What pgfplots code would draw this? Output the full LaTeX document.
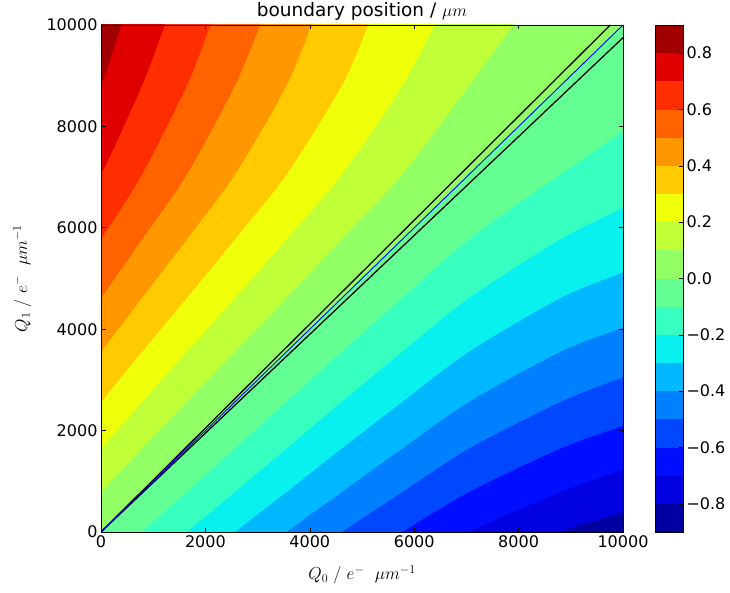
\documentclass[border=0pt]{standalone}
\usepackage{fontspec}
\setmainfont{DejaVu Sans}
\usepackage{pgfplots}
\pgfplotsset{compat=1.18}
\definecolor{c0}{rgb}{0,0,0.626}
\definecolor{c1}{rgb}{0,0,0.879}
\definecolor{c2}{rgb}{0,0.056,1}
\definecolor{c3}{rgb}{0,0.278,1}
\definecolor{c4}{rgb}{0,0.5,1}
\definecolor{c5}{rgb}{0,0.722,1}
\definecolor{c6}{rgb}{0.036,0.944,0.932}
\definecolor{c7}{rgb}{0.215,1,0.753}
\definecolor{c8}{rgb}{0.394,1,0.574}
\definecolor{c9}{rgb}{0.574,1,0.394}
\definecolor{c10}{rgb}{0.753,1,0.215}
\definecolor{c11}{rgb}{0.932,1,0.036}
\definecolor{c12}{rgb}{1,0.798,0}
\definecolor{c13}{rgb}{1,0.593,0}
\definecolor{c14}{rgb}{1,0.387,0}
\definecolor{c15}{rgb}{1,0.181,0}
\definecolor{c16}{rgb}{0.879,0,0}
\definecolor{c17}{rgb}{0.626,0,0}
\pgfplotsset{band/.style={fill=#1, draw=none, smooth, tension=0.5}}
\begin{document}
\begin{tikzpicture}
\path[use as bounding box] (0pt,0pt) rectangle (730pt,592pt);
\begin{axis}[
  at={(101pt,60pt)}, anchor=south west,
  scale only axis, width=522pt, height=507pt,
  xmin=0, xmax=10000, ymin=0, ymax=10000,
  axis on top, scaled ticks=false,
  xtick={0,2000,4000,6000,8000,10000},
  xticklabels={0,2000,4000,6000,8000,10000},
  ytick={0,2000,4000,6000,8000,10000},
  yticklabels={0,2000,4000,6000,8000,10000},
  tick align=inside, major tick length=4.5pt,
  tick style={black, line width=0.6pt},
  axis line style={black, line width=0.8pt},
  tick label style={font=\fontsize{16}{19}\selectfont},
  every axis title shift=0pt,
  title={boundary position / $\mu m$},
  title style={font=\fontsize{18.5}{22}\selectfont, at={(axis description cs:0.5,1.026)}, anchor=center},
  xlabel={$Q_0\ /\ e^{-}\ \ \mu m^{-1}$},
  ylabel={$Q_1\ /\ e^{-}\ \ \mu m^{-1}$},
  xlabel style={font=\fontsize{16.7}{19}\selectfont, at={(axis description cs:0.5,-0.085)}, anchor=center},
  ylabel style={font=\fontsize{16.7}{19}\selectfont, at={(axis description cs:-0.151,0.5)}, anchor=center},
]
% upper half (positive levels)
\addplot[fill=c9, draw=none] coordinates {(0,0)(0,10000)(10000,10000)};
\addplot[band=c10] coordinates {(-789,0)(0,789)(789,1649)(1649,2569)(2569,3559)(3559,4619)(4619,5779)(5779,7059)(7059,8816)(7900,10000)(8320,10592)(-1000,10800)};
\addplot[band=c11] coordinates {(-789,789)(0,1649)(789,2569)(1649,3559)(2569,4619)(3559,5779)(4619,7059)(5779,8816)(6390,10000)(6695,10592)(-1000,10800)};
\addplot[band=c12] coordinates {(-789,1649)(0,2569)(789,3559)(1649,4619)(2569,5779)(3559,7059)(4619,8816)(5120,10000)(5370,10592)(-1000,10800)};
\addplot[band=c13] coordinates {(-789,2569)(0,3559)(789,4619)(1649,5779)(2569,7059)(3559,8816)(4030,10000)(4265,10592)(-1000,10800)};
\addplot[band=c14] coordinates {(-789,3559)(0,4619)(789,5779)(1649,7059)(2569,8816)(3050,10000)(3290,10592)(-1000,10800)};
\addplot[band=c15] coordinates {(-789,4619)(0,5779)(789,7059)(1649,8816)(2095,10000)(2318,10592)(-1000,10800)};
\addplot[band=c16] coordinates {(-789,5779)(0,7059)(789,8816)(1222,10000)(1438,10592)(-1000,10800)};
\addplot[band=c17] coordinates {(-789,7059)(0,8816)(388,10000)(582,10592)(-1000,10800)};
% lower half (negative levels)
\addplot[fill=c8, draw=none] coordinates {(0,0)(10000,0)(10000,10000)};
\addplot[band=c7] coordinates {(0,-789)(789,0)(1649,789)(2569,1649)(3559,2569)(4619,3559)(5779,4619)(7059,5779)(8816,7059)(10000,7900)(10592,8320)(10800,-1000)};
\addplot[band=c6] coordinates {(789,-789)(1649,0)(2569,789)(3559,1649)(4619,2569)(5779,3559)(7059,4619)(8816,5779)(10000,6390)(10592,6695)(10800,-1000)};
\addplot[band=c5] coordinates {(1649,-789)(2569,0)(3559,789)(4619,1649)(5779,2569)(7059,3559)(8816,4619)(10000,5120)(10592,5370)(10800,-1000)};
\addplot[band=c4] coordinates {(2569,-789)(3559,0)(4619,789)(5779,1649)(7059,2569)(8816,3559)(10000,4030)(10592,4265)(10800,-1000)};
\addplot[band=c3] coordinates {(3559,-789)(4619,0)(5779,789)(7059,1649)(8816,2569)(10000,3050)(10592,3290)(10800,-1000)};
\addplot[band=c2] coordinates {(4619,-789)(5779,0)(7059,789)(8816,1649)(10000,2095)(10592,2318)(10800,-1000)};
\addplot[band=c1] coordinates {(5779,-789)(7059,0)(8816,789)(10000,1222)(10592,1438)(10800,-1000)};
\addplot[band=c0] coordinates {(7059,-789)(8816,0)(10000,388)(10592,582)(10800,-1000)};
% lines
\addplot[black, line width=1.3pt] coordinates {(0,0)(9756,10000)};
\addplot[black, line width=1.3pt] coordinates {(0,0)(10000,9750)};
\addplot[blue, line width=0.9pt] coordinates {(0,0)(10000,10000)};
\end{axis}
\begin{axis}[
  at={(655pt,60pt)}, anchor=south west,
  scale only axis, width=28pt, height=507pt,
  xmin=0, xmax=1, ymin=-0.9, ymax=0.9,
  axis on top,
  xtick=\empty,
  ytick={-0.8,-0.6,-0.4,-0.2,0,0.2,0.4,0.6,0.8},
  yticklabels={−0.8,−0.6,−0.4,−0.2,0.0,0.2,0.4,0.6,0.8},
  ytick pos=right, yticklabel pos=right,
  tick align=inside, major tick length=4.5pt,
  tick style={black, line width=0.6pt},
  axis line style={black, line width=0.8pt},
  tick label style={font=\fontsize{16}{19}\selectfont},
]
\addplot[fill=c0, draw=none] coordinates {(0,-0.9)(1,-0.9)(1,-0.8)(0,-0.8)};
\addplot[fill=c1, draw=none] coordinates {(0,-0.8)(1,-0.8)(1,-0.7)(0,-0.7)};
\addplot[fill=c2, draw=none] coordinates {(0,-0.7)(1,-0.7)(1,-0.6)(0,-0.6)};
\addplot[fill=c3, draw=none] coordinates {(0,-0.6)(1,-0.6)(1,-0.5)(0,-0.5)};
\addplot[fill=c4, draw=none] coordinates {(0,-0.5)(1,-0.5)(1,-0.4)(0,-0.4)};
\addplot[fill=c5, draw=none] coordinates {(0,-0.4)(1,-0.4)(1,-0.3)(0,-0.3)};
\addplot[fill=c6, draw=none] coordinates {(0,-0.3)(1,-0.3)(1,-0.2)(0,-0.2)};
\addplot[fill=c7, draw=none] coordinates {(0,-0.2)(1,-0.2)(1,-0.1)(0,-0.1)};
\addplot[fill=c8, draw=none] coordinates {(0,-0.1)(1,-0.1)(1,0)(0,0)};
\addplot[fill=c9, draw=none] coordinates {(0,0)(1,0)(1,0.1)(0,0.1)};
\addplot[fill=c10, draw=none] coordinates {(0,0.1)(1,0.1)(1,0.2)(0,0.2)};
\addplot[fill=c11, draw=none] coordinates {(0,0.2)(1,0.2)(1,0.3)(0,0.3)};
\addplot[fill=c12, draw=none] coordinates {(0,0.3)(1,0.3)(1,0.4)(0,0.4)};
\addplot[fill=c13, draw=none] coordinates {(0,0.4)(1,0.4)(1,0.5)(0,0.5)};
\addplot[fill=c14, draw=none] coordinates {(0,0.5)(1,0.5)(1,0.6)(0,0.6)};
\addplot[fill=c15, draw=none] coordinates {(0,0.6)(1,0.6)(1,0.7)(0,0.7)};
\addplot[fill=c16, draw=none] coordinates {(0,0.7)(1,0.7)(1,0.8)(0,0.8)};
\addplot[fill=c17, draw=none] coordinates {(0,0.8)(1,0.8)(1,0.9)(0,0.9)};
\end{axis}
\end{tikzpicture}
\end{document}
